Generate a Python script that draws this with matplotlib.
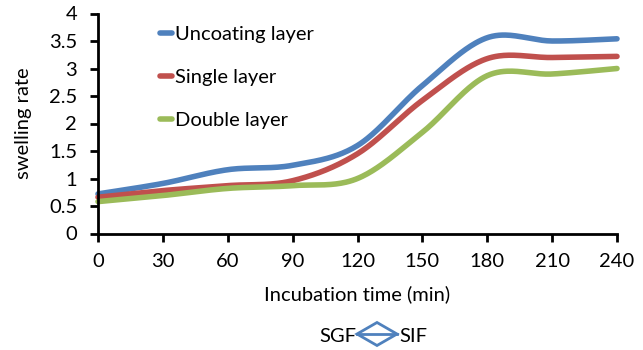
import numpy as np
import matplotlib
matplotlib.use("Agg")
import matplotlib.pyplot as plt
from matplotlib.lines import Line2D
from matplotlib.patches import Polygon

plt.rcParams['font.family'] = ['Lato', 'DejaVu Sans']

time_min = [0, 30, 60, 90, 120, 150, 180, 210, 240]
uncoating = [0.72, 0.91, 1.16, 1.24, 1.60, 2.69, 3.56, 3.50, 3.54]
single = [0.66, 0.78, 0.87, 0.96, 1.45, 2.42, 3.18, 3.20, 3.22]
double = [0.58, 0.69, 0.82, 0.87, 1.00, 1.84, 2.87, 2.90, 3.00]
series_names = ["Uncoating layer", "Single layer", "Double layer"]
colors = ["#4F81BD", "#C0504D", "#9BBB59"]
x_ticks = [0, 30, 60, 90, 120, 150, 180, 210, 240]
y_ticks = [0, 0.5, 1, 1.5, 2, 2.5, 3, 3.5, 4]
y_tick_labels = ["0", "0.5", "1", "1.5", "2", "2.5", "3", "3.5", "4"]

FS = 14.5


def excel_smooth(x, y, n=40):
    """Excel-style smoothed line (Catmull-Rom Bezier segments) for rendering."""
    p = np.column_stack([x, y]).astype(float)
    out = []
    m = len(p)
    t = np.linspace(0, 1, n)
    for i in range(m - 1):
        p0 = p[i]
        p3 = p[i + 1]
        pm = p[i - 1] if i > 0 else p[i]
        pp = p[i + 2] if i + 2 < m else p[i + 1]
        c1 = p0 + (p3 - pm) / 6.0
        c2 = p3 - (pp - p0) / 6.0
        seg = ((1 - t) ** 3)[:, None] * p0 + (3 * (1 - t) ** 2 * t)[:, None] * c1 \
            + (3 * (1 - t) * t ** 2)[:, None] * c2 + (t ** 3)[:, None] * p3
        out.append(seg if i == 0 else seg[1:])
    s = np.vstack(out)
    return s[:, 0], s[:, 1]


W, H = 643, 350
fig = plt.figure(figsize=(W / 100, H / 100), dpi=100)
ax = fig.add_axes([98 / W, 1 - 233.5 / H, (617 - 98) / W, (233.5 - 13.5) / H])

for name, vals, c in zip(series_names, [uncoating, single, double], colors):
    sx, sy = excel_smooth(time_min, vals)
    ax.plot(sx, sy, color=c, lw=4.0, solid_capstyle='round', clip_on=False, label=name)

ax.set_xlim(0, 240)
ax.set_ylim(0, 4)
ax.set_xticks(x_ticks)
ax.set_yticks(y_ticks)
ax.set_yticklabels(y_tick_labels)
for s in ['top', 'right']:
    ax.spines[s].set_visible(False)
for s in ['left', 'bottom']:
    ax.spines[s].set_linewidth(2.0)
    ax.spines[s].set_color('black')
ax.tick_params(axis='both', direction='out', width=2.0, length=6, labelsize=FS, colors='black')
ax.tick_params(axis='x', pad=8)
ax.tick_params(axis='y', pad=9)

ax.set_xlabel("Incubation time (min)", fontsize=FS, labelpad=11)
ax.set_ylabel("swelling rate", fontsize=FS, labelpad=12)

leg = ax.legend(loc='upper left', bbox_to_anchor=(0.093, 1.008), frameon=False, fontsize=FS,
                handlelength=0.6, handletextpad=0.15, labelspacing=1.28, borderaxespad=0.3)
for h in leg.get_lines():
    h.set_linewidth(4)
    h.set_solid_capstyle('round')

# SGF <-> SIF annotation
fy = 1 - 337 / H
fig.text(356 / W, fy, "SGF", ha='right', va='center', fontsize=FS)
fig.text(399 / W, fy, "SIF", ha='left', va='center', fontsize=FS)
cx, cy, hw, hh = 377, 334, 20, 11.5
pts = [((cx - hw) / W, 1 - cy / H), (cx / W, 1 - (cy - hh) / H),
       ((cx + hw) / W, 1 - cy / H), (cx / W, 1 - (cy + hh) / H)]
fig.patches.append(Polygon(pts, closed=True, fill=False, edgecolor="#4F81BD", lw=2,
                           transform=fig.transFigure, figure=fig))
fig.lines.append(Line2D([(cx - hw) / W, (cx + hw) / W], [1 - cy / H, 1 - cy / H],
                        color="#4F81BD", lw=2, transform=fig.transFigure, figure=fig))

fig.savefig("out.png", dpi=100)
